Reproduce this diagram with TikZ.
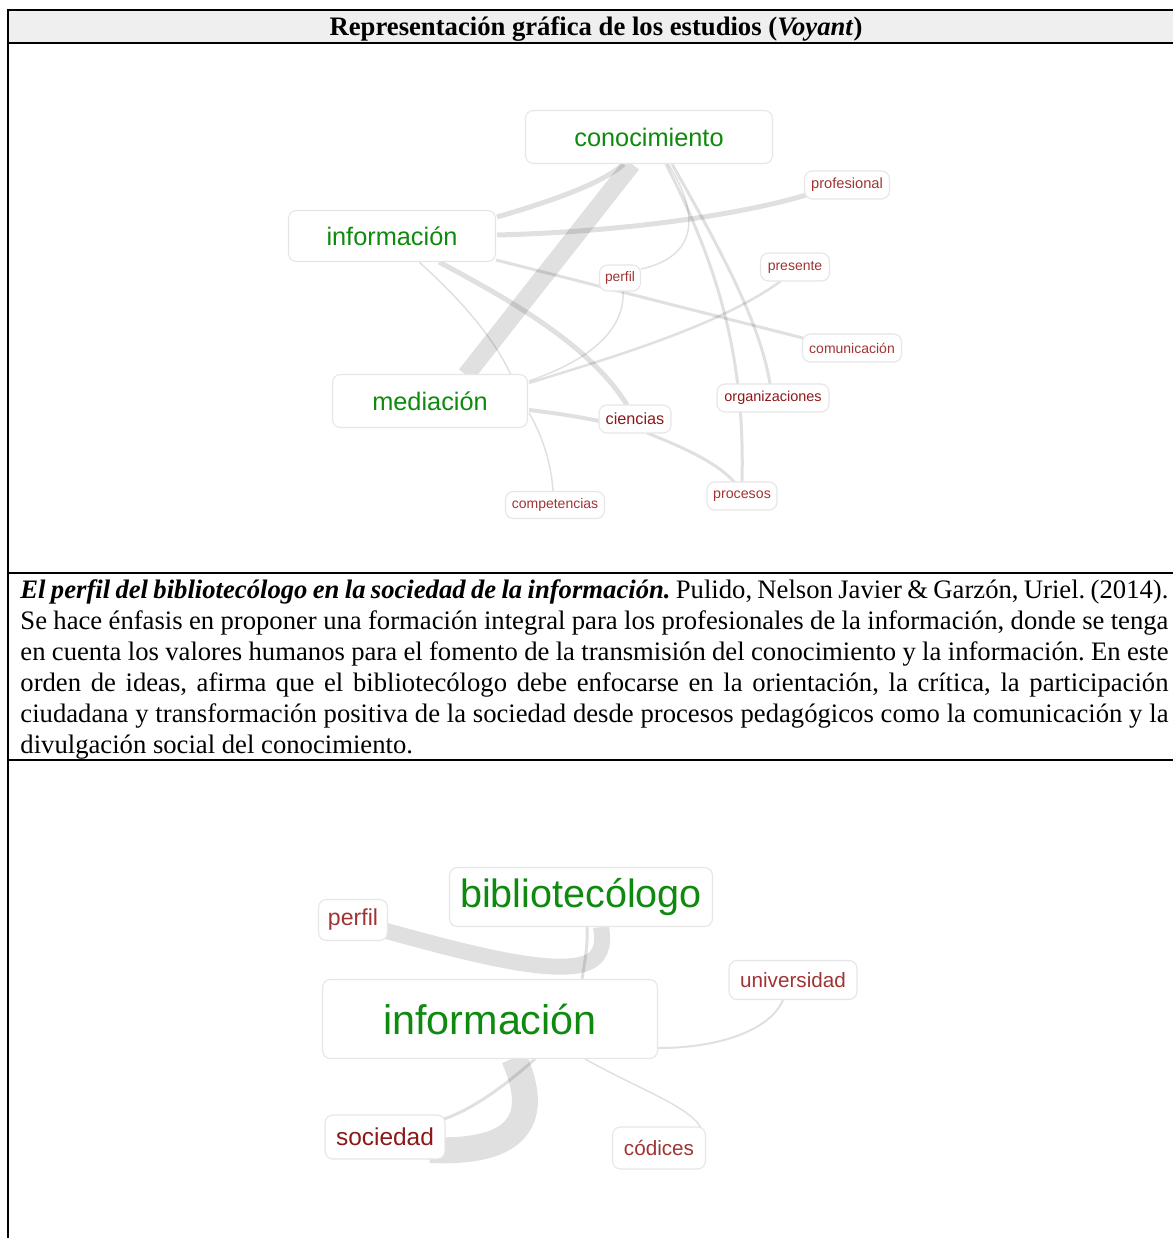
\documentclass[tikz,border=0pt]{standalone}
\usepackage{fontspec}
\setmainfont{Liberation Serif}
\setsansfont{Liberation Sans}
\usetikzlibrary{calc,backgrounds}
\definecolor{vgreen}{HTML}{0E8A0E}
\definecolor{vred}{HTML}{A03434}
\definecolor{vdred}{HTML}{8E1818}
\definecolor{boxc}{HTML}{E6E6E6}
\definecolor{hdr}{HTML}{EFEFEF}
\tikzset{
  wbox/.style={draw=boxc, fill=white, rounded corners=3.6pt, line width=0.5pt, inner sep=0pt},
  sz/.style 2 args={minimum width=#1*0.45pt, minimum height=#2*0.45pt},
  fs/.style={font=\sffamily\fontsize{#1}{#1}\selectfont},
  big/.style={wbox, text=vgreen},
  sml/.style={wbox, text=vred},
  smd/.style={wbox, text=vdred},
  lnk/.style={draw=black, draw opacity=0.12, line width=#1*0.45pt},
  rule/.style={line width=0.9pt, draw=black}
}
\frenchspacing
\begin{document}
\begin{tikzpicture}[x=0.45pt,y=-0.45pt]
\useasboundingbox (0,0) rectangle (1173,1238);
% table
\fill[hdr] (8,10) rectangle (1173,43);
\draw[rule] (8,1238) -- (8,10) -- (1173,10);
\draw[rule] (8,43) -- (1173,43);
\draw[rule] (8,573) -- (1173,573);
\draw[rule] (8,760) -- (1173,760);
\node[anchor=base, inner sep=0pt, font=\fontsize{12}{14}\selectfont\bfseries] (title) at (596,36)
  {Representación gráfica de los estudios (\textit{Voyant})};
\node[anchor=base west, inner sep=0pt, text width=1148*0.45pt, align=justify,
      font=\frenchspacing\fontsize{12}{13.95}\selectfont] (caption) at (20,598)
  {\textbf{\textit{El perfil del bibliotecólogo en la sociedad de la información.}} Pulido, Nelson Javier \& Garzón, Uriel. (2014).\linebreak
  Se hace énfasis en proponer una formación integral para los profesionales de la información, donde se tenga\linebreak
  en cuenta los valores humanos para el fomento de la transmisión del conocimiento y la información. En este\linebreak
  orden de ideas, afirma que el bibliotecólogo debe enfocarse en la orientación, la crítica, la participación\linebreak
  ciudadana y transformación positiva de la sociedad desde procesos pedagógicos como la comunicación y la\linebreak
  divulgación social del conocimiento.\par};
% ---------- graph 1 nodes
\node[big, sz={247}{53}, fs=11.4] (con) at (649,137) {conocimiento};
\node[big, sz={207}{51}, fs=11.4] (inf1) at (392,236) {información};
\node[big, sz={195}{53}, fs=11.4] (med) at (430,401) {mediación};
\node[sml, sz={85}{28}, fs=6.6] (prof) at (847,185) {profesional};
\node[sml, sz={69}{28}, fs=6.3] (pres) at (795,267) {presente};
\node[sml, sz={41}{26}, fs=6.2] (perf1) at (620,278) {perfil};
\node[sml, sz={99}{28}, fs=6.3] (comu) at (852,348) {comunicación};
\node[smd, sz={112}{28}, fs=6.5] (orga) at (773,398) {organizaciones};
\node[smd, sz={72}{28}, fs=7.3] (cien) at (635,419) {ciencias};
\node[sml, sz={70}{28}, fs=6.4] (proc) at (742,496) {procesos};
\node[sml, sz={99}{27}, fs=6.3] (comp) at (555,505) {competencias};
% ---------- graph 2 nodes
\node[big, sz={263}{59}, fs=17.8] (bib) at (581,897) {bibliotecólogo};
\node[big, sz={335}{79}, fs=18.6] (inf2) at (490,1019) {información};
\node[sml, sz={69}{41}, fs=10.4] (perf2) at (353,920) {perfil};
\node[sml, sz={128}{39}, fs=9.3] (univ) at (793,980) {universidad};
\node[smd, sz={120}{44}, fs=11] (soc) at (385,1137) {sociedad};
\node[sml, sz={93}{42}, fs=9.3] (codi) at (659,1148) {códices};
% ---------- links
\begin{pgfonlayer}{background}
% graph 1
\draw[lnk=18] ($(con)+(-17,27)$) -- ($(med)+(36,-26)$);
\draw[lnk=5] ($(inf1)+(105,-19)$) .. controls (545,203) and (600,185) .. ($(con)+(-25,27)$);
\draw[lnk=5] ($(inf1)+(105,-1)$) .. controls (620,232) and (740,215) .. ($(prof)+(-41,10)$);
\draw[lnk=3] ($(inf1)+(104,24)$) -- ($(comu)+(-49,-10)$);
\draw[lnk=5] ($(inf1)+(47,26)$) .. controls (510,300) and (590,345) .. ($(cien)+(-8,-14)$);
\draw[lnk=1.5] ($(inf1)+(27,26)$) .. controls (450,290) and (490,330) .. ($(med)+(81,-26)$);
\draw[lnk=1.5] ($(con)+(19,27)$) .. controls (695,205) and (705,255) .. ($(perf1)+(21,-9)$);
\draw[lnk=1.5] ($(perf1)+(3,13)$) .. controls (625,330) and (590,360) .. ($(med)+(99,-20)$);
\draw[lnk=2.5] ($(pres)+(-14,14)$) .. controls (720,325) and (620,355) .. ($(med)+(99,-18)$);
\draw[lnk=3] ($(con)+(17,27)$) .. controls (720,270) and (745,360) .. ($(proc)+(0,-14)$);
\draw[lnk=3] ($(con)+(23,27)$) .. controls (715,240) and (760,320) .. ($(orga)+(-3,-14)$);
\draw[lnk=4] ($(med)+(99,9)$) .. controls (555,413) and (580,417) .. ($(cien)+(-36,2)$);
\draw[lnk=3] ($(cien)+(12,14)$) .. controls (690,450) and (720,465) .. ($(proc)+(-7,-13)$);
\draw[lnk=1.5] ($(med)+(99,12)$) .. controls (545,440) and (552,470) .. ($(comp)+(-2,-13)$);
% graph 2
\draw[lnk=16] ($(perf2)+(30,10)$) .. controls (480,957) and (545,972) .. (580,965)
   .. controls (602,960) and (604,945) .. ($(bib)+(20,30)$);
\draw[lnk=3] ($(bib)+(6,30)$) .. controls (588,945) and (585,960) .. ($(inf2)+(92,-40)$);
\draw[lnk=26] ($(inf2)+(24,39)$) .. controls (530,1095) and (545,1155) .. ($(soc)+(45,13)$);
\draw[lnk=3] ($(inf2)+(45,40)$) .. controls (500,1090) and (470,1110) .. ($(soc)+(59,-18)$);
\draw[lnk=2] ($(inf2)+(168,29)$) .. controls (720,1048) and (770,1030) .. ($(univ)+(-10,20)$);
\draw[lnk=1.5] ($(inf2)+(95,40)$) .. controls (640,1090) and (700,1110) .. ($(codi)+(44,-14)$);
\end{pgfonlayer}
\end{tikzpicture}
\end{document}
